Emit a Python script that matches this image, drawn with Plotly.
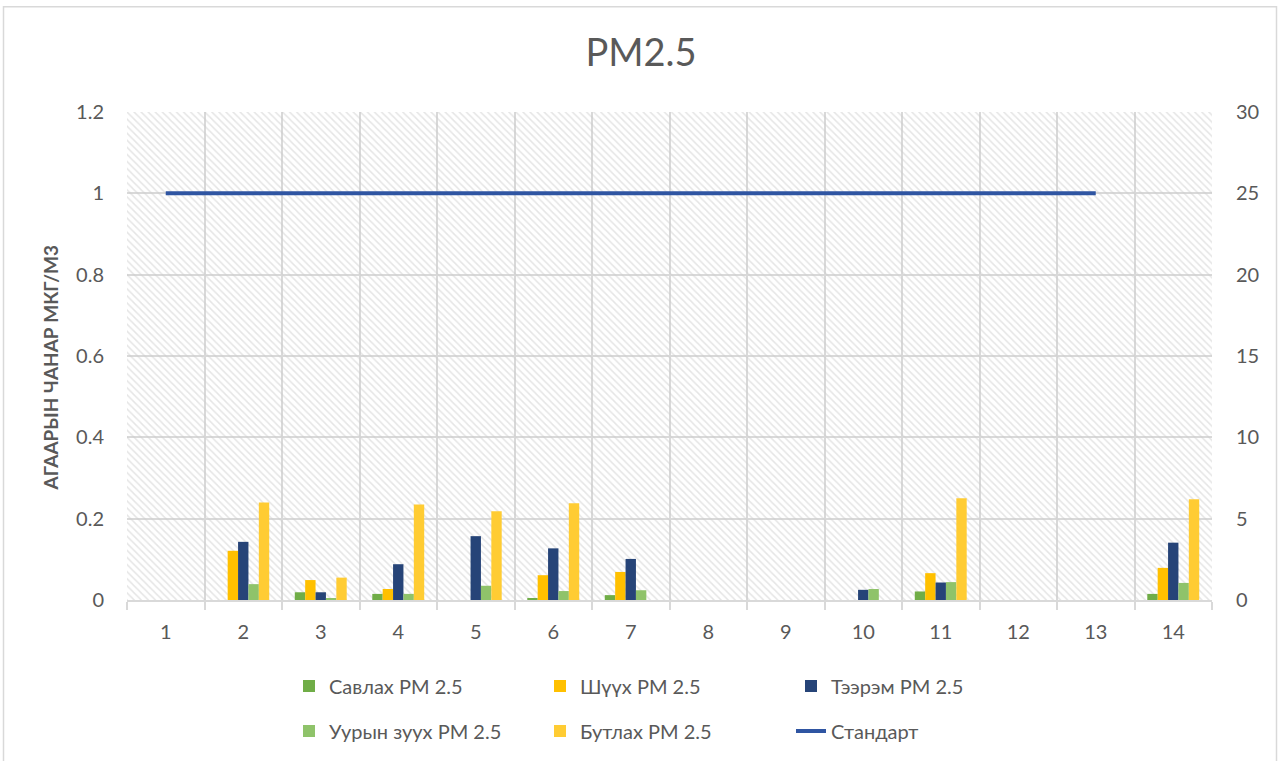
import plotly.graph_objects as go

categories = list(range(1, 15))
savlah = [0, 0, 0.019, 0.015, 0, 0.005, 0.012, 0, 0, 0, 0.021, 0, 0, 0.015]
shuukh = [0, 0.121, 0.049, 0.027, 0, 0.061, 0.069, 0, 0, 0, 0.066, 0, 0, 0.079]
taerem = [0, 0.143, 0.019, 0.088, 0.157, 0.127, 0.101, 0, 0, 0.025, 0.043, 0, 0, 0.141]
uuryn = [0, 0.039, 0.005, 0.015, 0.035, 0.022, 0.024, 0, 0, 0.027, 0.044, 0, 0, 0.042]
butlakh = [0, 0.240, 0.055, 0.235, 0.218, 0.238, 0, 0, 0, 0, 0.250, 0, 0, 0.248]
standard = [25] * 13 + [None]

series_names = ["Савлах PM 2.5", "Шүүх PM 2.5", "Тээрэм PM 2.5", "Уурын зуух PM 2.5", "Бутлах PM 2.5"]
series_vals = [savlah, shuukh, taerem, uuryn, butlakh]
series_cols = ["#70ad47", "#ffc000", "#264478", "#8fc36a", "#ffcc33"]
legend_ids = ["legend", "legend", "legend", "legend2", "legend2"]

FONT = "Lato, 'Noto Sans', sans-serif"
GRAY = "#595959"
GRID = "#d9d9d9"

W, H = 1282, 761
L, R, T, B = 127, 1212, 112, 601   # plot area in page pixels
PW, PH = R - L, B - T

def px(x):
    return (x - L) / PW

def py(y):
    return (B - y) / PH

fig = go.Figure()

# hatched plot-area background
fig.add_trace(go.Bar(
    x=[7.5], y=[1.2], width=[14], base=[0],
    marker=dict(color="rgba(0,0,0,0)", line=dict(width=0),
                pattern=dict(shape="\\", fgcolor="#cccccc", bgcolor="rgba(0,0,0,0)",
                             size=5, solidity=0.3)),
    showlegend=False, hoverinfo="skip",
))

w = 0.134
for i, (nm, vals, col, lg) in enumerate(zip(series_names, series_vals, series_cols, legend_ids)):
    fig.add_trace(go.Bar(
        x=categories, y=vals, name=nm, width=w, offset=-2.5 * w + i * w,
        marker=dict(color=col, line=dict(width=0)), legend=lg,
    ))

fig.add_trace(go.Scatter(
    x=categories, y=standard, name="Стандарт", mode="lines", yaxis="y2",
    line=dict(color="#2f55a2", width=4), legend="legend2",
))

legend_common = dict(orientation="h", xanchor="left", yanchor="middle",
                     entrywidth=206, entrywidthmode="pixels",
                     font=dict(size=20, color=GRAY, family=FONT), traceorder="normal",
                     bgcolor="rgba(0,0,0,0)")

fig.update_layout(
    width=W, height=H,
    barmode="overlay",
    paper_bgcolor="white", plot_bgcolor="white",
    margin=dict(l=L, r=W - R, t=T, b=H - B),
    font=dict(family=FONT, color=GRAY),
    title=dict(text="PM2.5", x=0.5, xanchor="center", y=1 - 53 / H, yanchor="middle",
               font=dict(size=38, color=GRAY, family=FONT)),
    xaxis=dict(range=[0.5, 14.5], tickvals=categories, showgrid=False, zeroline=False,
               showline=True, linecolor=GRID, linewidth=2, ticks="",
               tickfont=dict(size=20, color=GRAY), ticklabelstandoff=13,
               minor=dict(tick0=0.5, dtick=1, showgrid=True, gridcolor=GRID, gridwidth=2,
                          ticks="outside", ticklen=8, tickcolor=GRID, tickwidth=2)),
    yaxis=dict(range=[0, 1.2], dtick=0.2, showgrid=True, gridcolor=GRID, gridwidth=2,
               zeroline=False, showline=False, tickfont=dict(size=20, color=GRAY),
               ticklabelstandoff=22),
    yaxis2=dict(range=[0, 30], dtick=5, overlaying="y", side="right", showgrid=False,
                zeroline=False, showline=False, tickfont=dict(size=20, color=GRAY),
                ticklabelstandoff=23),
    legend=dict(x=px(289), y=py(686), **legend_common),
    legend2=dict(x=px(289), y=py(731), **legend_common),
    annotations=[dict(text="<b>АГААРЫН ЧАНАР МКГ/М3</b>", textangle=-90,
                      xref="paper", yref="paper", x=px(50), y=py(369),
                      xanchor="center", yanchor="middle", showarrow=False,
                      font=dict(size=19, color=GRAY, family=FONT))],
    shapes=[dict(type="rect", xref="paper", yref="paper",
                 x0=px(3.5), x1=px(1276.5), y0=py(770), y1=py(6.5),
                 line=dict(color=GRID, width=1.5), fillcolor="rgba(0,0,0,0)", layer="below")],
)

fig.write_html(
    "out.html",
    config={"displayModeBar": False},
    post_script="document.documentElement.style.margin='0';document.body.style.margin='0';"
                "document.body.style.overflow='hidden';",
)
